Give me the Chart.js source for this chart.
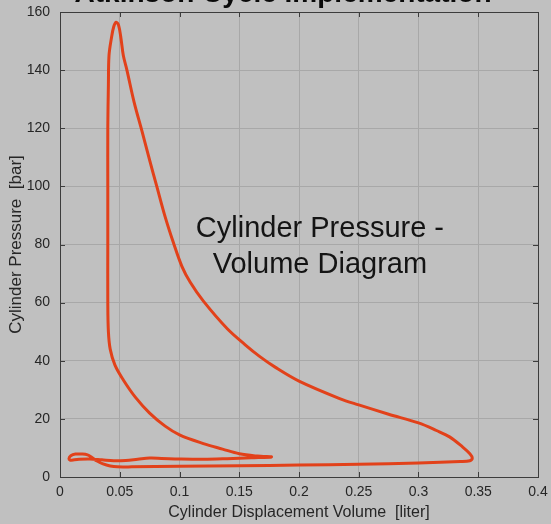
<!DOCTYPE html>
<html>
<head>
<meta charset="utf-8">
<script src="https://cdn.jsdelivr.net/npm/chart.js@4.4.0/dist/chart.umd.min.js"></script>
<style>
  html, body { margin: 0; padding: 0; background: #c0c0c0; }
  #wrap { width: 551px; height: 524px; position: relative; }
</style>
</head>
<body>
<div id="wrap"><canvas id="pv"></canvas></div>
<script>
// cycle traced in order: intake -> compression -> peak -> expansion -> exhaust -> back
const volume = [
    0.010, 0.016, 0.025, 0.035, 0.045, 0.055, 0.065, 0.075, 0.085, 0.100, 0.120, 0.140, 0.160, 0.177,
    0.165, 0.150, 0.136, 0.120, 0.100, 0.088, 0.075, 0.063, 0.053, 0.046, 0.042, 0.0405, 0.040, 0.040, 0.040, 0.040,
    0.0405, 0.041, 0.043, 0.045, 0.047, 0.049, 0.051, 0.053, 0.056, 0.062, 0.0686, 0.075, 0.081, 0.088, 0.095,
    0.102, 0.109, 0.120, 0.140, 0.155, 0.167, 0.180, 0.200, 0.234, 0.250, 0.275, 0.300, 0.315, 0.326, 0.337, 0.343, 0.345,
    0.343, 0.335, 0.300, 0.250, 0.200, 0.150, 0.100, 0.060, 0.048, 0.042, 0.036, 0.031, 0.027, 0.023,
    0.018, 0.013, 0.009, 0.0075, 0.0085, 0.010
];
const pressure = [
    5.8, 6.1, 6.2, 5.9, 5.6, 5.7, 6.1, 6.5, 6.4, 6.2, 6.1, 6.3, 6.6, 6.9,
    7.2, 8.0, 9.6, 11.5, 14.5, 17.5, 22, 27.5, 33.4, 38.5, 44, 50, 60, 80, 100, 120,
    135, 145, 151, 155, 156.5, 155.5, 151, 145, 140, 129, 119, 109, 100, 89.5, 80.5,
    72.5, 67, 60.5, 51, 45.5, 41.5, 37.8, 33, 27, 24.8, 21.6, 18.6, 16, 13.8, 10.3, 8, 6.5,
    5.6, 5.3, 4.8, 4.4, 4.1, 3.9, 3.7, 3.5, 3.5, 3.8, 4.5, 5.5, 6.6, 7.6,
    7.9, 7.9, 7.3, 6.3, 5.8, 5.8
];

const xTicks = [0, 0.05, 0.1, 0.15, 0.2, 0.25, 0.3, 0.35, 0.4];
const xTickLabels = ['0', '0.05', '0.1', '0.15', '0.2', '0.25', '0.3', '0.35', '0.4'];
const yTicks = [0, 20, 40, 60, 80, 100, 120, 140, 160];

const titleText = 'Atkinson Cycle Implementation';
const noteLines = ['Cylinder Pressure -', 'Volume Diagram'];
const noteX = 0.2175;
const noteY = [82.6, 70.2];

const FONT = "'Liberation Sans', Arial, Helvetica, sans-serif";

let points = volume.map(function(v, i) {
    return { x: v, y: pressure[i] };
});

const matlabBox = {
    id: 'matlabBox',
    afterDatasetsDraw(chart) {
        let ctx = chart.ctx;
        let a = chart.chartArea;
        let xs = chart.scales.x;
        let ys = chart.scales.y;
        ctx.save();
        ctx.strokeStyle = '#3c3c3c';
        ctx.lineWidth = 1;
        ctx.beginPath();
        for (let i = 0; i < xTicks.length; i++) {
            let px = Math.round(xs.getPixelForValue(xTicks[i])) + 0.5;
            ctx.moveTo(px, a.bottom); ctx.lineTo(px, a.bottom - 5);
            ctx.moveTo(px, a.top); ctx.lineTo(px, a.top + 5);
        }
        for (let i = 0; i < yTicks.length; i++) {
            let py = Math.round(ys.getPixelForValue(yTicks[i])) + 0.5;
            ctx.moveTo(a.left, py); ctx.lineTo(a.left + 5, py);
            ctx.moveTo(a.right, py); ctx.lineTo(a.right - 5, py);
        }
        ctx.stroke();
        ctx.strokeRect(Math.round(a.left) + 0.5, Math.round(a.top) + 0.5,
            Math.round(a.right - a.left), Math.round(a.bottom - a.top));

        // annotation inside the axes
        ctx.fillStyle = '#141414';
        ctx.font = '29px ' + FONT;
        ctx.textAlign = 'center';
        ctx.textBaseline = 'alphabetic';
        for (let i = 0; i < noteLines.length; i++) {
            ctx.fillText(noteLines[i], xs.getPixelForValue(noteX), ys.getPixelForValue(noteY[i]));
        }

        // title, cut off by the top of the picture
        ctx.font = 'bold 28px ' + FONT;
        ctx.fillStyle = '#0a0a0a';
        ctx.fillText(titleText, 283, 2);
        ctx.restore();
    }
};

new Chart(document.getElementById('pv'), {
    type: 'scatter',
    data: {
        datasets: [{
            data: points,
            showLine: true,
            borderColor: '#e2411a',
            borderWidth: 3,
            pointRadius: 0,
            tension: 0.35,
            fill: false
        }]
    },
    options: {
        responsive: true,
        maintainAspectRatio: false,
        animation: false,
        layout: { padding: { left: 0, top: 12, right: 13, bottom: 0 } },
        plugins: {
            legend: { display: false },
            tooltip: { enabled: false }
        },
        scales: {
            x: {
                type: 'linear',
                min: 0,
                max: 0.4,
                afterBuildTicks: function(scale) {
                    scale.ticks = xTicks.map(function(v) { return { value: v }; });
                },
                afterFit: function(scale) {
                    scale.height = 47;
                    scale.paddingLeft = 0;
                    scale.paddingRight = 0;
                },
                grid: { color: '#a8a8a8', drawTicks: false },
                border: { display: false },
                ticks: {
                    padding: 7,
                    color: '#262626',
                    font: { family: FONT, size: 14 },
                    callback: function(value, index) { return xTickLabels[index]; }
                },
                title: {
                    display: true,
                    text: 'Cylinder Displacement Volume  [liter]',
                    color: '#262626',
                    font: { family: FONT, size: 16 },
                    padding: { top: 0, bottom: 1.5 }
                }
            },
            y: {
                type: 'linear',
                min: 0,
                max: 160,
                afterBuildTicks: function(scale) {
                    scale.ticks = yTicks.map(function(v) { return { value: v }; });
                },
                afterFit: function(scale) {
                    scale.width = 60;
                    scale.paddingTop = 0;
                    scale.paddingBottom = 0;
                },
                grid: { color: '#a8a8a8', drawTicks: false },
                border: { display: false },
                ticks: {
                    padding: 10,
                    color: '#262626',
                    font: { family: FONT, size: 14 }
                },
                title: {
                    display: true,
                    text: 'Cylinder Pressure  [bar]',
                    color: '#262626',
                    font: { family: FONT, size: 17 },
                    padding: { top: 6, bottom: 0 }
                }
            }
        }
    },
    plugins: [matlabBox]
});
</script>
</body>
</html>
